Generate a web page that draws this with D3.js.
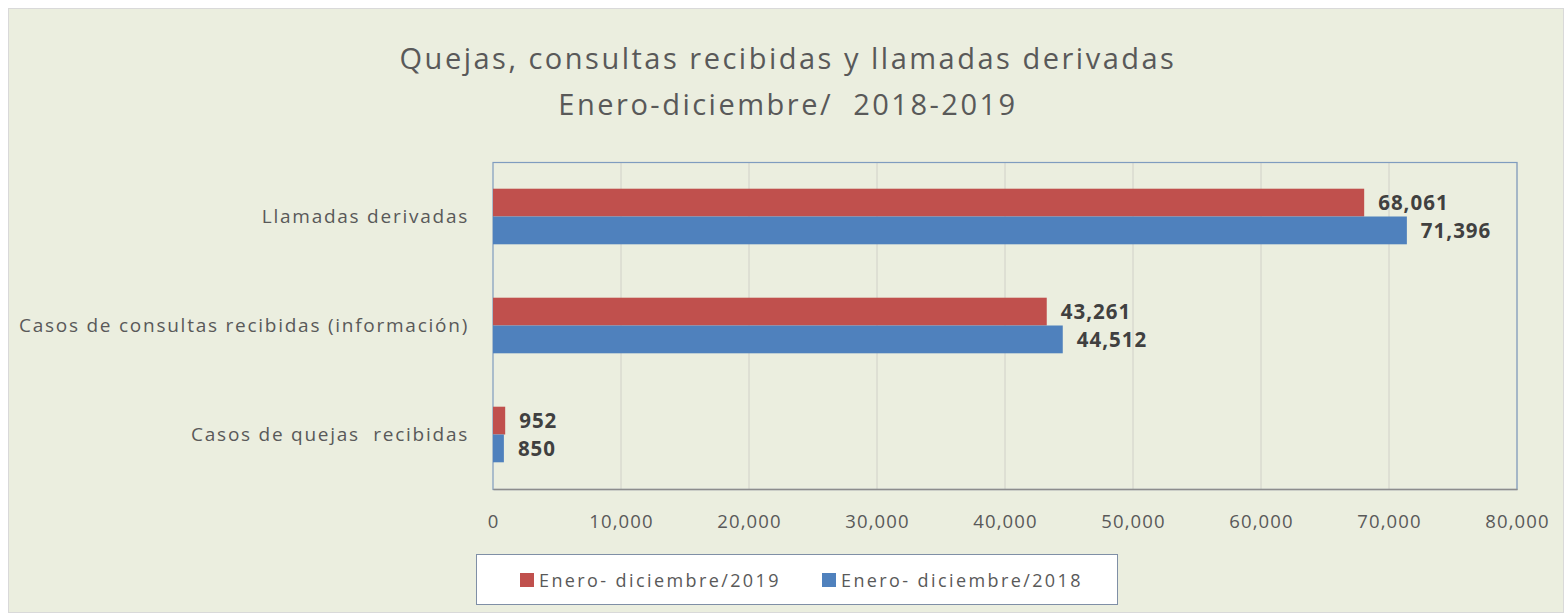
<!DOCTYPE html>
<html>
<head>
<meta charset="utf-8">
<script src="https://cdn.jsdelivr.net/npm/d3@7"></script>
<style>
  body { margin: 0; background: #fff; }
  svg { display: block; }
</style>
</head>
<body>
<svg id="chart"></svg>
<script>
'use strict';

// data
var categories = ['Llamadas derivadas', 'Casos de consultas recibidas (información)', 'Casos de quejas  recibidas'];
var values2019 = [68061, 43261, 952];
var values2018 = [71396, 44512, 850];
var seriesNames = ['Enero- diciembre/2019', 'Enero- diciembre/2018'];
var xTicks = [0, 10000, 20000, 30000, 40000, 50000, 60000, 70000, 80000];
var titleLines = ['Quejas, consultas recibidas y llamadas derivadas', 'Enero-diciembre/  2018-2019'];

var width = 1565, height = 614;
var font = '"Open Sans", "Noto Sans", sans-serif';
var colors = ['#c0504d', '#4f81bd'];

var svg = d3.select('#chart').attr('width', width).attr('height', height);

// chart background
svg.append('rect').attr('x', 0).attr('y', 0).attr('width', width).attr('height', height).attr('fill', '#fff');
svg.append('rect').attr('x', 8.5).attr('y', 8.5).attr('width', width - 10).attr('height', height - 10)
  .attr('fill', '#ebeedf').attr('stroke', '#d9d9d9');

var plot = { left: 493, right: 1517, top: 162, bottom: 489 };

var x = d3.scaleLinear().domain([0, 80000]).range([plot.left, plot.right]);
var y = d3.scaleBand().domain(categories).range([plot.top, plot.bottom]).paddingInner(0.49).paddingOuter(0.245);
var sub = d3.scaleBand().domain([0, 1]).range([0, y.bandwidth()]);

// title
svg.append('g').selectAll('text').data(titleLines).enter().append('text')
  .attr('x', 788).attr('y', function (d, i) { return 69 + i * 46; })
  .attr('text-anchor', 'middle')
  .attr('font-family', font).attr('font-size', 29).attr('letter-spacing', 2.5).attr('fill', '#595959')
  .style('white-space', 'pre')
  .text(function (d) { return d; });

// gridlines
svg.append('g').selectAll('line').data(xTicks.slice(1)).enter().append('line')
  .attr('x1', x).attr('x2', x).attr('y1', plot.top).attr('y2', plot.bottom)
  .attr('stroke', '#d0d0c8').attr('stroke-width', 1);

// plot border
svg.append('rect').attr('x', plot.left).attr('y', plot.top + 0.5)
  .attr('width', plot.right - plot.left).attr('height', plot.bottom - plot.top)
  .attr('fill', 'none').attr('stroke', '#7f9cbf').attr('stroke-width', 1.2);

// x axis
var xAxis = d3.axisBottom(x).tickValues(xTicks).tickSize(0).tickPadding(26).tickFormat(d3.format(','));
var gx = svg.append('g').attr('transform', 'translate(0,' + plot.bottom + ')').call(xAxis);
gx.select('.domain').attr('stroke', '#8c8c8c').attr('stroke-width', 1.5);
gx.selectAll('text').attr('font-family', font).attr('font-size', 18.5).attr('letter-spacing', 1.1).attr('fill', '#595959');

// y axis labels
var yAxis = d3.axisLeft(y).tickSize(0).tickPadding(24);
var gy = svg.append('g').attr('transform', 'translate(' + plot.left + ',0)').call(yAxis);
gy.select('.domain').remove();
gy.selectAll('text').attr('font-family', font).attr('font-size', 19).attr('letter-spacing', 1.75)
  .attr('fill', '#595959').style('white-space', 'pre');

// bars
var series = [values2019, values2018];
series.forEach(function (vals, s) {
  var g = svg.append('g');
  g.selectAll('rect').data(vals).enter().append('rect')
    .attr('x', x(0))
    .attr('y', function (d, i) { return y(categories[i]) + sub(s); })
    .attr('width', function (d) { return x(d) - x(0); })
    .attr('height', sub.bandwidth())
    .attr('fill', colors[s]);
  g.selectAll('text').data(vals).enter().append('text')
    .attr('x', function (d) { return x(d) + 14; })
    .attr('y', function (d, i) { return y(categories[i]) + sub(s) + sub.bandwidth() / 2; })
    .attr('dy', '0.36em')
    .attr('font-family', font).attr('font-size', 20.5).attr('letter-spacing', 1).attr('font-weight', 'bold').attr('fill', '#404040')
    .text(function (d) { return d3.format(',')(d); });
});

// legend
var legend = svg.append('g');
legend.append('rect').attr('x', 476.5).attr('y', 554.5).attr('width', 641).attr('height', 50)
  .attr('fill', '#fff').attr('stroke', '#7f8fa6').attr('stroke-width', 1);
var legendX = [520, 822];
seriesNames.forEach(function (name, i) {
  legend.append('rect').attr('x', legendX[i]).attr('y', 573).attr('width', 14).attr('height', 14).attr('fill', colors[i]);
  legend.append('text').attr('x', legendX[i] + 19).attr('y', 587)
    .attr('font-family', font).attr('font-size', 18).attr('letter-spacing', 2.4).attr('fill', '#595959').text(name);
});
</script>
</body>
</html>
